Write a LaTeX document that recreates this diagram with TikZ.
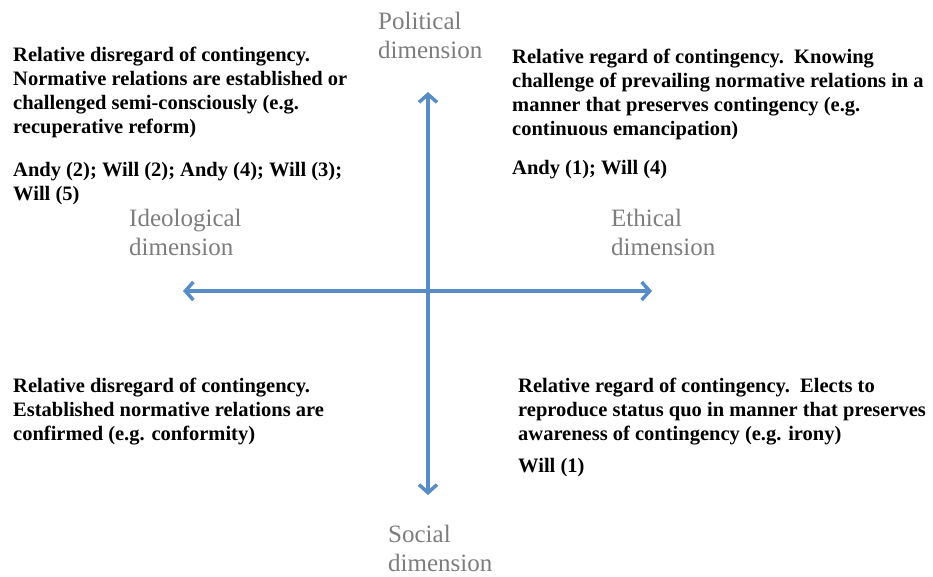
\documentclass[tikz,border=0pt]{standalone}
\usepackage{fontspec}
\setmainfont{Liberation Serif}
\usepackage{tikz}
\usetikzlibrary{arrows.meta,positioning}

\definecolor{axisblue}{RGB}{88,140,198}
\definecolor{dimgray}{RGB}{125,125,125}

\begin{document}
\begin{tikzpicture}[x=1pt, y=-1pt,
	quad/.style={anchor=north west, inner sep=0pt, align=left, font=\fontsize{20.5}{24}\selectfont\bfseries},
	dim/.style={anchor=north west, inner sep=0pt, align=left, text=dimgray, font=\fontsize{25}{29}\selectfont},
	axis/.style={draw=axisblue, line width=3.5pt, -{Straight Barb[length=8pt,width=18pt]}}]
		\useasboundingbox (0,0) rectangle (933,577);

		% axes, drawn from the centre outwards
		\coordinate (O) at (428,291);
		\coordinate (N) at (428,92);
		\coordinate (S) at (428,495);
		\coordinate (W) at (183,291);
		\coordinate (E) at (652,291);
		\draw[axis] (O) -- (N);
		\draw[axis] (O) -- (S);
		\draw[axis] (O) -- (W);
		\draw[axis] (O) -- (E);

		% dimension labels
		\node [dim] (pol)  at (378,12)  {Political\\dimension};
		\node [dim] (ideo) at (129,209) {Ideological\\dimension};
		\node [dim] (eth)  at (611,209) {Ethical\\dimension};
		\node [dim] (soc)  at (388,525) {Social\\dimension};

		% quadrants
		\node [quad] (TL) at (13,47) {Relative disregard of contingency.\\Normative relations are established or\\challenged semi-consciously (e.g.\\recuperative reform)};
		\node [quad] (TLn) at (13,162) {Andy (2); Will (2); Andy (4); Will (3);\\Will (5)};
		\node [quad] (TR) at (512,49) {Relative regard of contingency.\ \ Knowing\\challenge of prevailing normative relations in a\\manner that preserves contingency (e.g.\\continuous emancipation)};
		\node [quad] (TRn) at (512,160) {Andy (1); Will (4)};
		\node [quad] (BL) at (13,378) {Relative disregard of contingency.\\Established normative relations are\\confirmed (e.g. conformity)};
		\node [quad] (BR) at (518,378) {Relative regard of contingency.\ \ Elects to\\reproduce status quo in manner that preserves\\awareness of contingency (e.g. irony)};
		\node [quad] (BRn) at (518,458) {Will (1)};
	\end{tikzpicture}
\end{document}
